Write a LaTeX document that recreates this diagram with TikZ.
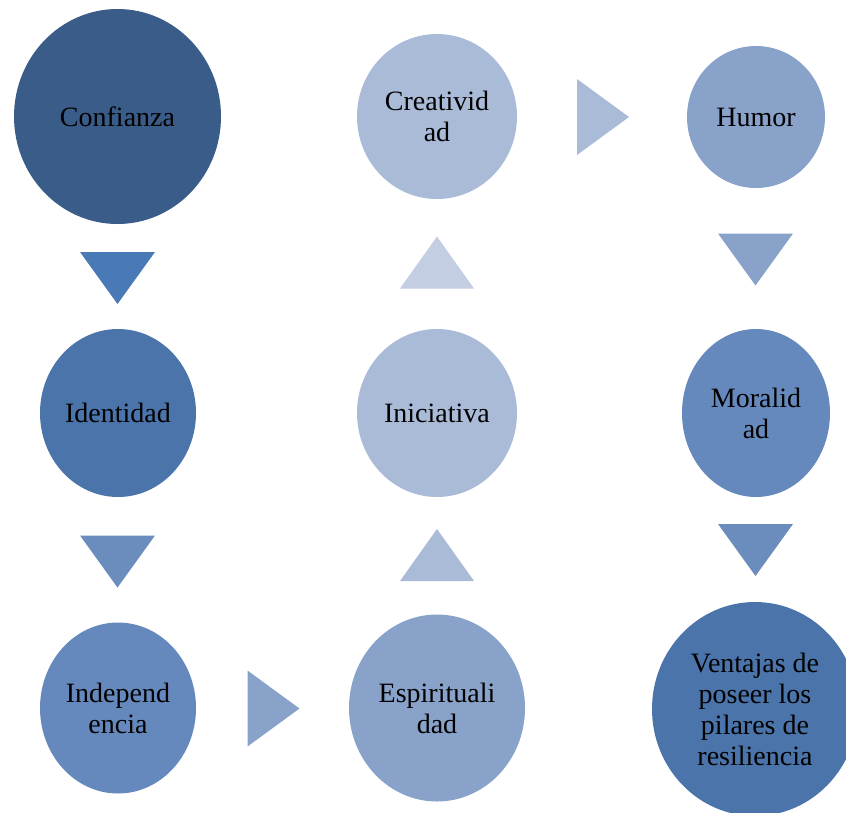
\documentclass[tikz,border=0pt]{standalone}
\usepackage{fontspec}
\setmainfont{Liberation Serif}
\usetikzlibrary{shapes.geometric}

% palette, from dark to light blue
\definecolor{blueA}{HTML}{3A5C89}
\definecolor{blueB}{HTML}{4A74AA}
\definecolor{blueBt}{HTML}{4A7AB5}
\definecolor{blueC}{HTML}{6689BD}
\definecolor{blueCt}{HTML}{6A8DBE}
\definecolor{blueD}{HTML}{89A2C9}
\definecolor{blueE}{HTML}{AABBD8}
\definecolor{blueF}{HTML}{C3CEE3}

\begin{document}
\begin{tikzpicture}[x=1pt,y=-1pt,
  pillar/.style={ellipse, inner sep=0pt, draw=none, align=center,
    font=\fontsize{28}{31}\selectfont, text=black},
  tridown/.pic={\path[pic actions] (-37.5,-26) -- (37.5,-26) -- (0,26) -- cycle;},
  triup/.pic={\path[pic actions] (-37,26) -- (37,26) -- (0,-26) -- cycle;},
  triright/.pic={\path[pic actions] (-26,-38) -- (26,0) -- (-26,38) -- cycle;}]
\useasboundingbox (0,0) rectangle (846,812);

\begin{scope}
\clip (0,0) rectangle (846,812);
% the pillars
\node[pillar, fill=blueA, minimum width=207pt, minimum height=215pt] (conf)  at (117.5,116.5) {Confianza};
\node[pillar, fill=blueB, minimum width=156pt, minimum height=168pt] (iden)  at (118,413) {Identidad};
\node[pillar, fill=blueC, minimum width=156pt, minimum height=171pt] (indep) at (118,708) {Independ\\encia};
\node[pillar, fill=blueD, minimum width=176pt, minimum height=187pt] (espi)  at (437,708) {Espirituali\\dad};
\node[pillar, fill=blueE, minimum width=160pt, minimum height=168pt] (inic)  at (437,413) {Iniciativa};
\node[pillar, fill=blueE, minimum width=160pt, minimum height=165pt] (crea)  at (437,116.5) {Creativid\\ad};
\node[pillar, fill=blueD, minimum width=138pt, minimum height=142pt] (humor) at (756,117) {Humor};
\node[pillar, fill=blueC, minimum width=148pt, minimum height=168pt] (moral) at (756,413) {Moralid\\ad};
\node[pillar, fill=blueB, minimum width=206pt, minimum height=214pt] (vent)  at (755,709) {Ventajas de\\poseer los\\pilares de\\resiliencia};
\end{scope}

% triangular arrows between the pillars
\pic[fill=blueBt] at (117.5,278)   {tridown};
\pic[fill=blueCt] at (117.5,561.5) {tridown};
\pic[fill=blueD]  at (273.5,708.5) {triright};
\pic[fill=blueE]  at (437,555)     {triup};
\pic[fill=blueF]  at (437,262.5)   {triup};
\pic[fill=blueE]  at (603,117)     {triright};
\pic[fill=blueD]  at (755.5,259.5) {tridown};
\pic[fill=blueCt] at (755.5,550)   {tridown};
\end{tikzpicture}
\end{document}
